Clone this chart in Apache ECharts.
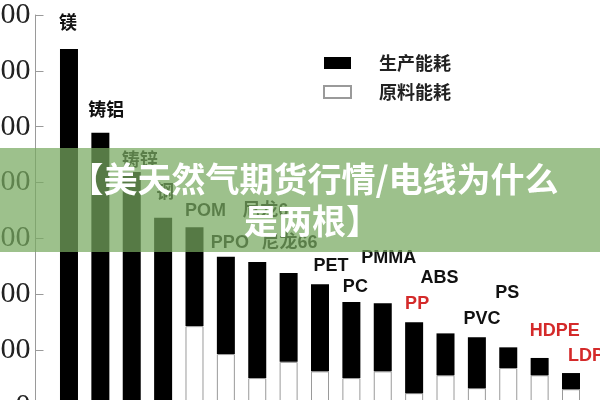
<!DOCTYPE html>
<html>
<head>
<meta charset="utf-8">
<script src="https://cdn.jsdelivr.net/npm/echarts@6/dist/echarts.min.js"></script>
<style>
html,body{margin:0;padding:0;background:#fff;}
#chart{width:600px;height:400px;}
</style>
</head>
<body>
<div id="chart"></div>
<script>
// Data
var categories = ['镁','铸铝','铸锌','钢','POM','PPO','尼龙6','尼龙66','PET','PC','PMMA','PP','ABS','PVC','PS','HDPE','LDPE'];
var rawEnergy = [0, 0, 0, 0, 143, 93, 50, 79, 62, 50, 62, 23, 55, 32, 68, 55, 30];
var prodEnergy = [639, 489, 419, 337, 177, 174, 208, 159, 156, 136, 122, 127, 75, 91, 37, 31, 29];
var yTicks = [0, 100, 200, 300, 400, 500, 600, 700];
var redLabels = ['PP','HDPE','LDPE'];
var bannerLines = ['【美天然气期货行情/电线为什么', '是两根】'];

// Label placement (styling)
var labelOffsets = [[-1,-16],[6,-13],[8,-2],[2,-16],[11,-7],[4,-5],[8,-42],[1,-21],[11,-9],[4,-6],[6,-36],[3,-9],[-6,-46],[5,-9],[-1,-45],[15,-18],[21,-8]];

var prodData = prodEnergy.map(function (v, i) {
  return {
    value: v,
    label: {
      offset: labelOffsets[i],
      color: redLabels.indexOf(categories[i]) >= 0 ? '#d42a2a' : '#111'
    }
  };
});

var chart = echarts.init(document.getElementById('chart'));
chart.setOption({
  animation: false,
  backgroundColor: '#fff',
  grid: { left: 53.3, right: 13.3, top: 15, bottom: -6, containLabel: false, outerBoundsMode: 'none' },
  legend: {
    orient: 'vertical',
    left: 318,
    top: 49,
    itemWidth: 27,
    itemHeight: 12,
    itemGap: 11,
    icon: 'rect',
    data: ['生产能耗', '原料能耗'],
    textStyle: {
      fontSize: 18, fontWeight: 'bold', color: '#222',
      fontFamily: 'Noto Sans CJK SC',
      padding: [0, 0, 0, 23]
    }
  },
  xAxis: {
    type: 'category',
    data: categories,
    axisLine: { show: false },
    axisTick: { show: false },
    axisLabel: { show: false }
  },
  yAxis: {
    type: 'value',
    min: yTicks[0],
    max: yTicks[yTicks.length - 1],
    interval: 100,
    offset: 17.8,
    splitLine: { show: false },
    axisLine: { show: true, lineStyle: { color: '#9a9a9a', width: 1 } },
    axisTick: { show: true, inside: true, length: 8, lineStyle: { color: '#9a9a9a' } },
    axisLabel: {
      margin: 5,
      fontSize: 30,
      color: '#222',
      fontFamily: 'Liberation Serif'
    }
  },
  series: [
    {
      name: '原料能耗',
      type: 'bar',
      stack: 'e',
      barWidth: 18,
      data: rawEnergy,
      itemStyle: { color: '#ffffff', borderColor: '#9a9a9a', borderWidth: 1 }
    },
    {
      name: '生产能耗',
      type: 'bar',
      stack: 'e',
      barWidth: 18,
      data: prodData,
      itemStyle: { color: '#000000' },
      label: {
        show: true,
        position: 'top',
        distance: 0,
        formatter: function (p) { return p.name; },
        fontSize: 18,
        fontWeight: 'bold',
        fontFamily: 'Liberation Sans, Noto Sans CJK SC'
      }
    }
  ],
  graphic: [
    {
      type: 'rect',
      z: 100,
      shape: { x: 0, y: 148, width: 600, height: 104 },
      style: { fill: 'rgba(119,169,96,0.72)' }
    },
    {
      type: 'text',
      z: 101,
      x: 314, y: 179,
      style: {
        text: bannerLines[0],
        fill: '#ffffff',
        font: 'bold 34px "Noto Sans CJK SC"',
        textAlign: 'center',
        textVerticalAlign: 'middle'
      }
    },
    {
      type: 'text',
      z: 101,
      x: 312, y: 221,
      style: {
        text: bannerLines[1],
        fill: '#ffffff',
        font: 'bold 34px "Noto Sans CJK SC"',
        textAlign: 'center',
        textVerticalAlign: 'middle'
      }
    }
  ]
});
</script>
</body>
</html>
